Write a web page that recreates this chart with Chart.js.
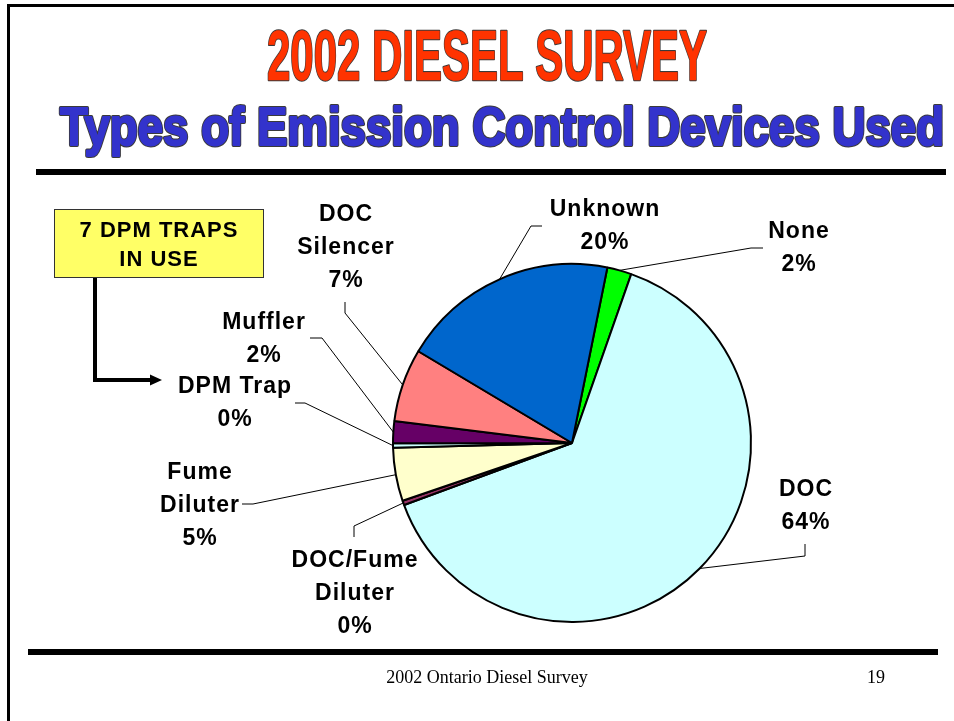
<!DOCTYPE html>
<html>
<head>
<meta charset="utf-8">
<title>2002 Diesel Survey</title>
<script src="https://cdn.jsdelivr.net/npm/chart.js@4.4.0/dist/chart.umd.min.js"></script>
<style>
  html, body { margin: 0; padding: 0; background: #fff; }
  canvas { display: block; }
</style>
</head>
<body>
<canvas id="chart" width="954" height="721"></canvas>
<script>
// device types, clockwise from the top of the pie
const devices = [
    ['None'],
    ['DOC'],
    ['DOC/Fume', 'Diluter'],
    ['Fume', 'Diluter'],
    ['DPM Trap'],
    ['Muffler'],
    ['DOC', 'Silencer'],
    ['Unknown']
];
// share of surveyed equipment, percent
const shares = [2.2, 64.0, 0.4, 4.8, 0.4, 2.0, 6.6, 19.6];
const sliceColors = ['#00FF00', '#CCFFFF', '#993366', '#FFFFCC', '#CCFFFF', '#660066', '#FF8080', '#0066CC'];

const titleText = '2002 DIESEL SURVEY';
const subtitleText = 'Types of Emission Control Devices Used';
const calloutLines = ['7 DPM TRAPS', 'IN USE'];
const footerText = '2002 Ontario Diesel Survey';
const pageNumber = '19';

// where each slice label sits: text centre x, first line centre y,
// and the elbow / end of its leader line
const labelLayout = [
    { x: 799, y: 230, elbow: [751, 248], end: [763, 248] },
    { x: 806, y: 488, elbow: [805, 556], end: [805, 544] },
    { x: 355, y: 559, elbow: [354, 526], end: [354, 537] },
    { x: 200, y: 471, elbow: [253, 504], end: [242, 504] },
    { x: 235, y: 385, elbow: [305, 403], end: [295, 403] },
    { x: 264, y: 321, elbow: [322, 338], end: [310, 338] },
    { x: 346, y: 213, elbow: [345, 313], end: [345, 302] },
    { x: 605, y: 208, elbow: [531, 226], end: [542, 226] }
];
const LINE_H = 33;

// heading text squeezed to a set width, with a dark outline;
// grow > 0 fattens the glyphs a little in their own colour
function outlinedText(ctx, text, cx, baseline, width, font, fill, grow) {
    ctx.save();
    ctx.font = font;
    const w = ctx.measureText(text).width;
    ctx.translate(cx, baseline);
    ctx.scale(width / w, 1);
    ctx.textAlign = 'center';
    ctx.textBaseline = 'alphabetic';
    ctx.lineJoin = 'round';
    ctx.strokeStyle = '#3a3a3a';
    ctx.lineWidth = grow + 2;
    ctx.strokeText(text, 0, 0);
    if (grow > 0) {
        ctx.strokeStyle = fill;
        ctx.lineWidth = grow;
        ctx.strokeText(text, 0, 0);
    }
    ctx.fillStyle = fill;
    ctx.fillText(text, 0, 0);
    ctx.restore();
}

const pageDecor = {
    id: 'pageDecor',
    beforeDraw(chart) {
        const ctx = chart.ctx;
        ctx.save();
        ctx.fillStyle = '#000';
        // slide frame
        ctx.fillRect(7, 4, 947, 3);
        ctx.fillRect(7, 4, 3, 717);
        // rules under the title and above the footer
        ctx.fillRect(36, 169, 910, 6);
        ctx.fillRect(28, 649, 910, 6);

        outlinedText(ctx, titleText, 487, 80, 440, 'bold 71px "Liberation Sans", Arial, sans-serif', '#FF3300', 0.5);
        outlinedText(ctx, subtitleText, 502, 145, 884, 'bold 54px "Liberation Sans", Arial, sans-serif', '#3333CC', 2);

        // callout box with its arrow
        ctx.fillStyle = '#FFFF66';
        ctx.fillRect(54, 209, 209, 68);
        ctx.strokeStyle = '#333';
        ctx.lineWidth = 1;
        ctx.strokeRect(54.5, 209.5, 209, 68);
        ctx.fillStyle = '#000';
        ctx.font = 'bold 22px "Liberation Sans", Arial, sans-serif';
        ctx.letterSpacing = '1px';
        ctx.textAlign = 'center';
        ctx.textBaseline = 'alphabetic';
        ctx.fillText(calloutLines[0], 159, 237);
        ctx.fillText(calloutLines[1], 159, 266);
        ctx.letterSpacing = '0px';

        ctx.lineWidth = 4;
        ctx.strokeStyle = '#000';
        ctx.beginPath();
        ctx.moveTo(95, 278);
        ctx.lineTo(95, 380);
        ctx.lineTo(151, 380);
        ctx.stroke();
        ctx.beginPath();
        ctx.moveTo(150, 374.5);
        ctx.lineTo(162, 380);
        ctx.lineTo(150, 385.5);
        ctx.closePath();
        ctx.fill();

        // footer
        ctx.font = '18px "Liberation Serif", "Times New Roman", serif';
        ctx.fillText(footerText, 487, 683);
        ctx.fillText(pageNumber, 876, 683);
        ctx.restore();
    }
};

const sliceLabels = {
    id: 'sliceLabels',
    afterDatasetsDraw(chart) {
        const ctx = chart.ctx;
        const arcs = chart.getDatasetMeta(0).data;
        const total = shares.reduce((a, b) => a + b, 0);
        ctx.save();
        arcs.forEach((arc, i) => {
            const pos = labelLayout[i];
            const mid = (arc.startAngle + arc.endAngle) / 2;
            const px = arc.x + Math.cos(mid) * arc.outerRadius;
            const py = arc.y + Math.sin(mid) * arc.outerRadius;

            ctx.strokeStyle = '#000';
            ctx.lineWidth = 1;
            ctx.beginPath();
            ctx.moveTo(px, py);
            ctx.lineTo(pos.elbow[0], pos.elbow[1]);
            ctx.lineTo(pos.end[0], pos.end[1]);
            ctx.stroke();

            const lines = devices[i].concat([Math.round(shares[i] / total * 100) + '%']);
            ctx.fillStyle = '#000';
            ctx.font = 'bold 23px "Liberation Sans", Arial, sans-serif';
            ctx.letterSpacing = '1px';
            ctx.textAlign = 'center';
            ctx.textBaseline = 'alphabetic';
            lines.forEach((t, k) => {
                ctx.fillText(t, pos.x, pos.y + k * LINE_H + 8.2);
            });
        });
        ctx.restore();
    }
};

function renderChart() {
    const ctx = document.getElementById('chart').getContext('2d');
    new Chart(ctx, {
        type: 'pie',
        data: {
            labels: devices,
            datasets: [{
                data: shares,
                backgroundColor: sliceColors,
                borderColor: '#000',
                borderWidth: 2,
                hoverOffset: 0
            }]
        },
        options: {
            responsive: false,
            animation: false,
            events: [],
            rotation: 11.4,
            layout: { padding: { left: 392, right: 202, top: 263, bottom: 98 } },
            plugins: {
                legend: { display: false },
                tooltip: { enabled: false }
            }
        },
        plugins: [pageDecor, sliceLabels]
    });
}
renderChart();
</script>
</body>
</html>
